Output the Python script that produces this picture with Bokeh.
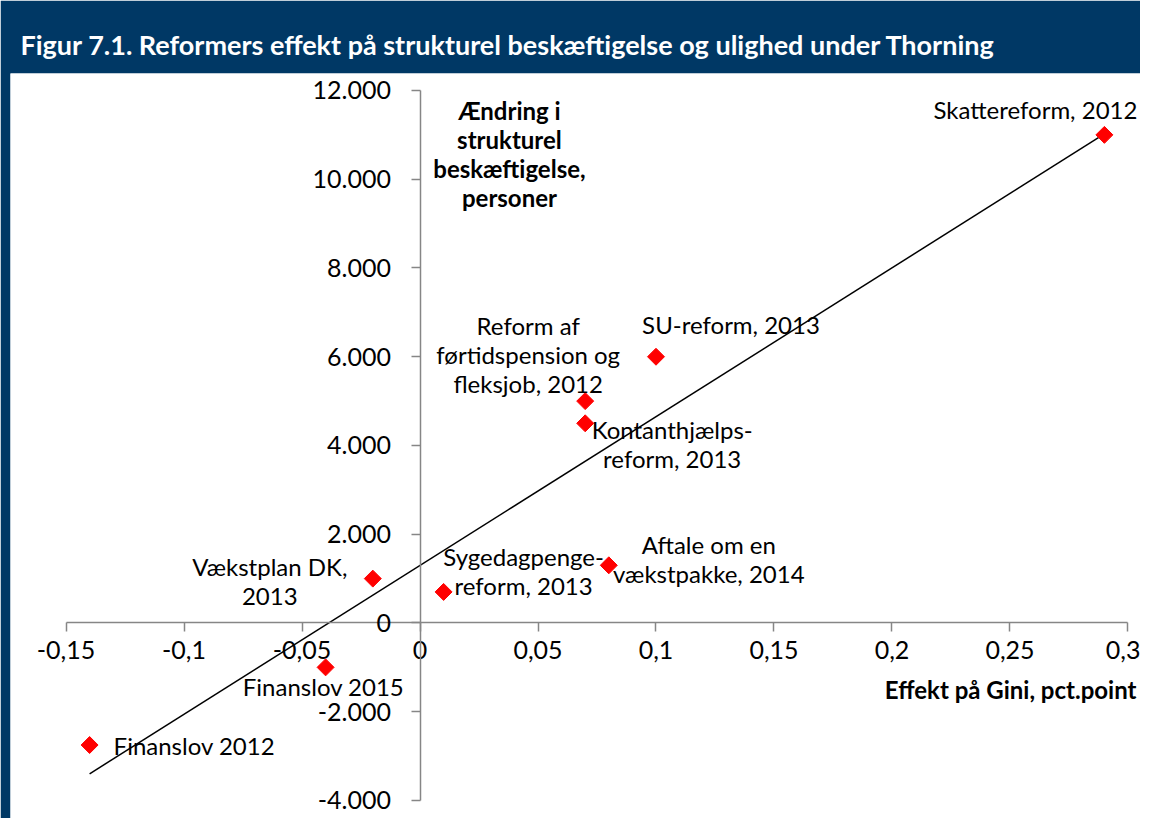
import numpy as np
from bokeh.plotting import figure
from bokeh.models import Range1d, FixedTicker, Label
from bokeh.embed import file_html
from bokeh.resources import INLINE

# ---- data ----
reforms = [
    "Skattereform, 2012",
    "SU-reform, 2013",
    "Reform af\nførtidspension og\nfleksjob, 2012",
    "Kontanthjælps-\nreform, 2013",
    "Aftale om en\nvækstpakke, 2014",
    "Sygedagpenge-\nreform, 2013",
    "Vækstplan DK,\n2013",
    "Finanslov 2015",
    "Finanslov 2012",
]
gini_effect = [0.29, 0.10, 0.07, 0.07, 0.08, 0.01, -0.02, -0.04, -0.14]
employment_effect = [11000, 6000, 5000, 4500, 1300, 700, 1000, -1000, -2750]

x_ticks = [-0.15, -0.1, -0.05, 0, 0.05, 0.1, 0.15, 0.2, 0.25, 0.3]
x_tick_labels = ["-0,15", "-0,1", "-0,05", "0", "0,05", "0,1", "0,15", "0,2", "0,25", "0,3"]
y_ticks = [-4000, -2000, 0, 2000, 4000, 6000, 8000, 10000, 12000]
y_tick_labels = ["-4.000", "-2.000", "0", "2.000", "4.000", "6.000", "8.000", "10.000", "12.000"]

title_text = "Figur 7.1. Reformers effekt på strukturel beskæftigelse og ulighed under Thorning"
y_title = "Ændring i\nstrukturel\nbeskæftigelse,\npersoner"
x_title = "Effekt på Gini, pct.point"

# ---- styling ----
BLUE = "#003865"
FONT = "Lato"
label_style = [  # (align, x_offset, y_offset)
    ("right", 33, 25),
    ("center", 75, 32),
    ("center", -57, 47),
    ("center", 87, -21),
    ("center", 100, 6),
    ("center", 80, 21),
    ("center", -103, -2),
    ("center", -2, -19),
    ("left", 24, 0),
]

p = figure(
    width=1140, height=818,
    x_range=Range1d(-0.17352, 0.30530),
    y_range=Range1d(-4406, 12383),
    output_backend="svg", toolbar_location=None,
    min_border_left=10, min_border_right=0, min_border_bottom=0, min_border_top=73,
)
p.border_fill_color = BLUE
p.background_fill_color = "white"
p.outline_line_color = None
p.xgrid.visible = False
p.ygrid.visible = False

p.title.text = title_text
p.title.text_font = FONT
p.title.text_font_style = "bold"
p.title.text_font_size = "27px"
p.title.text_color = "white"
p.title.align = "left"
p.title.offset = 10
p.title.vertical_align = "middle"
p.title.standoff = 24

for ax, ticks, labels, bnds in [
    (p.xaxis[0], x_ticks, x_tick_labels, (x_ticks[0], x_ticks[-1])),
    (p.yaxis[0], y_ticks, y_tick_labels, (y_ticks[0], y_ticks[-1])),
]:
    ax.fixed_location = 0
    ax.bounds = bnds
    ax.ticker = FixedTicker(ticks=ticks)
    ax.major_label_overrides = {t: l for t, l in zip(ticks, labels)}
    ax.axis_line_color = "#868686"
    ax.axis_line_width = 1.5
    ax.major_tick_line_color = "#868686"
    ax.major_tick_line_width = 1.5
    ax.major_tick_in = 0
    ax.major_tick_out = 9
    ax.minor_tick_line_color = None
    ax.major_label_text_font = FONT
    ax.major_label_text_font_size = "25px"
    ax.major_label_text_color = "black"

p.yaxis[0].major_label_standoff = 20
p.xaxis[0].major_label_standoff = 9

# regression line
slope, intercept = np.polyfit(gini_effect, employment_effect, 1)
xs = np.array([min(gini_effect), max(gini_effect)])
p.line(xs, slope * xs + intercept, line_color="black", line_width=1.5)

p.scatter(gini_effect, employment_effect, marker="square", angle=np.pi / 4,
          size=12, fill_color="#FF0000", line_color="#FF0000")

for txt, gx, gy, (al, dx, dy) in zip(reforms, gini_effect, employment_effect, label_style):
    p.add_layout(Label(x=gx, y=gy, text=txt, x_offset=dx, y_offset=dy,
                       text_align=al, text_baseline="middle", text_font=FONT,
                       text_font_size="24px", text_color="black", text_line_height=1.0))

p.add_layout(Label(x=0.0379, y=10580, text=y_title, text_align="center",
                   text_baseline="middle", text_font=FONT, text_font_style="bold",
                   text_font_size="24px", text_color="black", text_line_height=1.0))
p.add_layout(Label(x=0.3036, y=-1490, text=x_title, text_align="right",
                   text_baseline="middle", text_font=FONT, text_font_style="bold",
                   text_font_size="24px", text_color="black"))

open("out.html", "w").write(file_html(p, INLINE))
